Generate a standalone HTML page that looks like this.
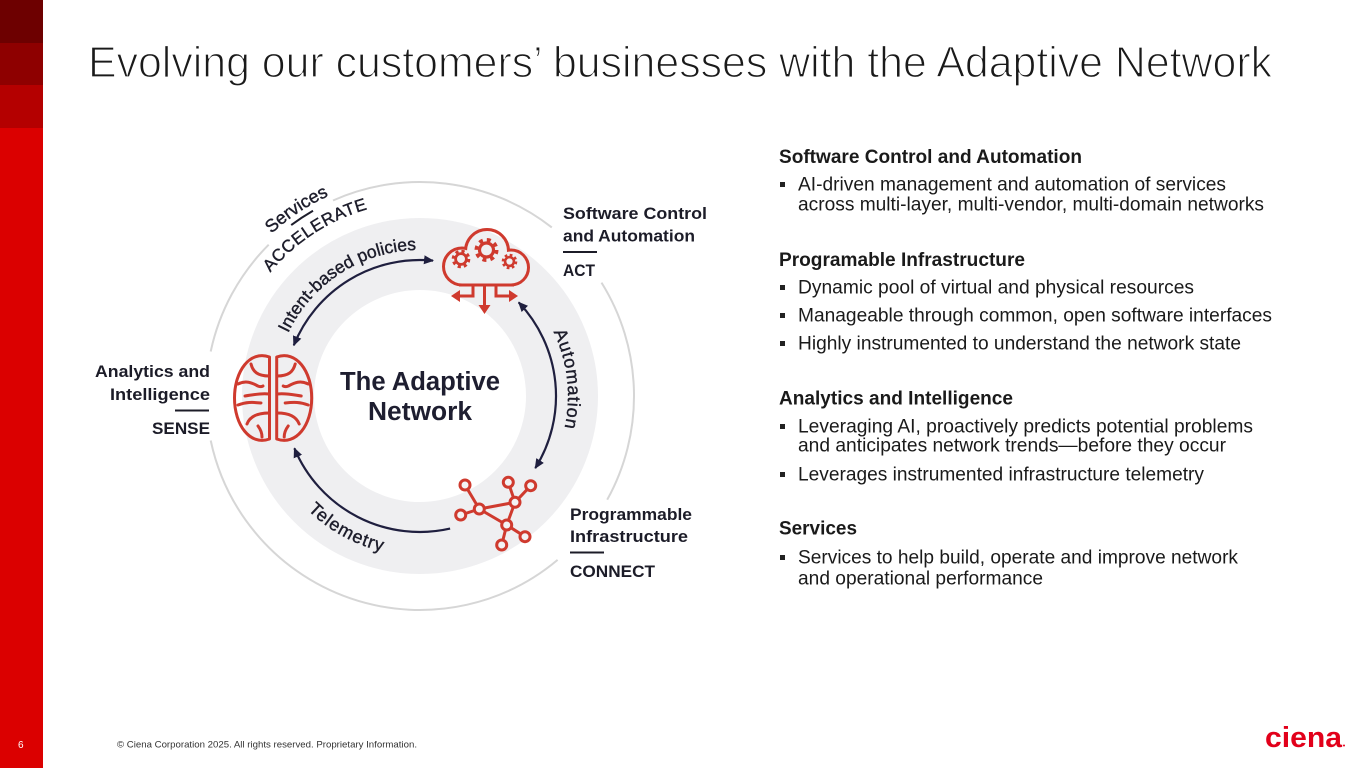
<!DOCTYPE html>
<html>
<head>
<meta charset="utf-8">
<style>
  html,body{margin:0;padding:0;background:#fff;}
  body{width:1365px;height:768px;overflow:hidden;}
  svg{display:block;}
  text{font-family:"Liberation Sans", Arial, sans-serif;}
</style>
</head>
<body>
<svg width="1365" height="768" viewBox="0 0 1365 768" xmlns="http://www.w3.org/2000/svg">
  <defs>
    <marker id="ah" viewBox="0 0 10 10" refX="9" refY="5" markerWidth="10" markerHeight="10" markerUnits="userSpaceOnUse" orient="auto-start-reverse">
      <path d="M0,0.5 L10,5 L0,9.5 z" fill="#1f1f3f"/>
    </marker>
    <mask id="cm" maskUnits="userSpaceOnUse" x="0" y="0" width="1365" height="768">
      <rect x="0" y="0" width="1365" height="768" fill="white"/>
      <g fill="black">
        <circle cx="462" cy="266.5" r="17"/>
        <circle cx="487" cy="251" r="20"/>
        <circle cx="511" cy="267.5" r="16"/>
        <rect x="462" y="258" width="49" height="25.5"/>
      </g>
    </mask>
    <path id="pIntent" d="M 274 396 A 146 146 0 0 1 479.4 262.6"/>
    <path id="pAuto" d="M 494 267.8 A 148 148 0 0 1 520.9 504.2"/>
    <path id="pTele" d="M 260.6 410 A 160 160 0 0 0 492.6 538.6"/>
    <path id="pServ" d="M 213.3 320.8 A 220 220 0 0 1 431.5 176.3"/>
    <path id="pAcc" d="M 237.7 329.6 A 194 194 0 0 1 433.5 202.5"/>
  </defs>

  <!-- left red bar -->
  <rect x="0" y="0" width="43" height="768" fill="#db0000"/>
  <rect x="0" y="0" width="43" height="43" fill="#6d0000"/>
  <rect x="0" y="43" width="43" height="42" fill="#8e0000"/>
  <rect x="0" y="85" width="43" height="43" fill="#b40000"/>

  <!-- title -->
  <text x="88" y="77" font-size="44" fill="#1a1a1a" stroke="#ffffff" stroke-width="1.3" textLength="1184" lengthAdjust="spacingAndGlyphs">Evolving our customers’ businesses with the Adaptive Network</text>

  <!-- outer thin circle with gaps -->
  <g fill="none" stroke="#d6d6d6" stroke-width="2">
    <path d="M 557.6 559.9 A 214 214 0 0 1 210.7 440.5"/>
    <path d="M 210.7 351.5 A 214 214 0 0 1 268.7 244.7"/>
    <path d="M 333.0 200.5 A 214 214 0 0 1 551.8 227.4"/>
    <path d="M 601.5 282.6 A 214 214 0 0 1 607.2 499.7"/>
  </g>
  <path d="M 291.2 225.1 A 214 214 0 0 1 313 210.7" fill="none" stroke="#1d1d2b" stroke-width="2"/>

  <!-- gray band -->
  <circle cx="420" cy="396" r="142" fill="none" stroke="#efeff1" stroke-width="72"/>

  <!-- arrows -->
  <g fill="none" stroke="#1f1f3f" stroke-width="2.2">
    <path d="M 293.8 345.3 A 136 136 0 0 1 433.0 260.6" marker-start="url(#ah)" marker-end="url(#ah)"/>
    <path d="M 518.7 302.4 A 136 136 0 0 1 535.3 468.1" marker-start="url(#ah)" marker-end="url(#ah)"/>
    <path d="M 450.1 528.6 A 136 136 0 0 1 294.4 448.3" marker-end="url(#ah)"/>
  </g>

  <!-- curved labels -->
  <g fill="#1d1d2b" stroke="#1d1d2b" stroke-width="0.4">
    <text font-size="17.5"><textPath href="#pIntent" startOffset="50%" text-anchor="middle">Intent-based policies</textPath></text>
    <text font-size="18" letter-spacing="0.8"><textPath href="#pAuto" startOffset="50%" text-anchor="middle">Automation</textPath></text>
    <text font-size="18" letter-spacing="1"><textPath href="#pTele" startOffset="50%" text-anchor="middle">Telemetry</textPath></text>
    <text font-size="18"><textPath href="#pServ" startOffset="50%" text-anchor="middle">Services</textPath></text>
    <text font-size="17" letter-spacing="0.6"><textPath href="#pAcc" startOffset="50%" text-anchor="middle">ACCELERATE</textPath></text>
  </g>

  <!-- center title -->
  <g fill="#1e1e30" font-weight="bold" font-size="25.5">
    <text x="340" y="390" textLength="160" lengthAdjust="spacingAndGlyphs">The Adaptive</text>
    <text x="368" y="420" textLength="104" lengthAdjust="spacingAndGlyphs">Network</text>
  </g>

  <!-- cloud icon -->
  <g mask="url(#cm)" fill="none" stroke="#cf3a2e" stroke-width="6">
    <circle cx="462" cy="266.5" r="17"/>
    <circle cx="487" cy="251" r="20"/>
    <circle cx="511" cy="267.5" r="16"/>
    <rect x="462" y="258" width="49" height="25.5"/>
  </g>
  <g fill="none" stroke="#cf3a2e">
    <circle cx="486.5" cy="250" r="7" stroke-width="3.2"/>
    <circle cx="486.5" cy="250" r="9.8" stroke-width="4.4" stroke-dasharray="3.8 3.9"/>
    <circle cx="461" cy="259" r="5.4" stroke-width="2.8"/>
    <circle cx="461" cy="259" r="7.6" stroke-width="3.4" stroke-dasharray="3.1 2.9"/>
    <circle cx="509.5" cy="261.5" r="4.4" stroke-width="2.6"/>
    <circle cx="509.5" cy="261.5" r="6.3" stroke-width="3" stroke-dasharray="2.6 2.35"/>
    <polyline points="473,285 473,296 460,296" stroke-width="3"/>
    <line x1="484.5" y1="285" x2="484.5" y2="305" stroke-width="3"/>
    <polyline points="496,285 496,296 509,296" stroke-width="3"/>
  </g>
  <g fill="#cf3a2e">
    <polygon points="451,296 460,290 460,302"/>
    <polygon points="484.5,314 478.5,305 490.5,305"/>
    <polygon points="518,296 509,290 509,302"/>
  </g>

  <!-- brain icon -->
  <g fill="none" stroke="#cf3a2e" stroke-width="3" stroke-linecap="round" stroke-linejoin="round">
    <path d="M 269.5 357 C 250 350, 234.5 371, 234.5 398 C 234.5 425, 250 446, 269.5 439 Z"/>
    <path d="M 276.7 357 C 296.2 350, 311.7 371, 311.7 398 C 311.7 425, 296.2 446, 276.7 439 Z"/>
    <!-- left squiggles -->
    <path d="M 251 364 C 253 372, 258 376, 269 376"/>
    <path d="M 238 384 C 246 380, 252 383, 256 385 C 259 387, 261 387, 263 386"/>
    <path d="M 269 394 C 260 393, 252 395, 245 396"/>
    <path d="M 238 405 C 246 402, 252 402, 261 403"/>
    <path d="M 269 413 C 258 413, 250 416, 247 424"/>
    <path d="M 258 426 C 261 430, 262 433, 262 437"/>
    <!-- right squiggles (mirror) -->
    <path d="M 295.2 364 C 293.2 372, 288.2 376, 277.2 376"/>
    <path d="M 308.2 384 C 300.2 380, 294.2 383, 290.2 385 C 287.2 387, 285.2 387, 283.2 386"/>
    <path d="M 277.2 394 C 286.2 393, 294.2 395, 301.2 396"/>
    <path d="M 308.2 405 C 300.2 402, 294.2 402, 285.2 403"/>
    <path d="M 277.2 413 C 288.2 413, 296.2 416, 299.2 424"/>
    <path d="M 288.2 426 C 285.2 430, 284.2 433, 284.2 437"/>
  </g>

  <!-- network icon -->
  <g stroke="#cf3a2e" stroke-width="3" fill="none">
    <line x1="465" y1="485" x2="479.3" y2="509"/>
    <line x1="460.7" y1="515" x2="479.3" y2="509"/>
    <line x1="479.3" y1="509" x2="515" y2="502.3"/>
    <line x1="479.3" y1="509" x2="506.7" y2="525"/>
    <line x1="515" y1="502.3" x2="506.7" y2="525"/>
    <line x1="508.3" y1="482.3" x2="515" y2="502.3"/>
    <line x1="530.7" y1="485.7" x2="515" y2="502.3"/>
    <line x1="506.7" y1="525" x2="525" y2="536.7"/>
    <line x1="506.7" y1="525" x2="501.7" y2="545"/>
  </g>
  <g stroke="#cf3a2e" stroke-width="3" fill="#f3f3f4">
    <circle cx="465" cy="485" r="5"/>
    <circle cx="508.3" cy="482.3" r="5"/>
    <circle cx="530.7" cy="485.7" r="5"/>
    <circle cx="460.7" cy="515" r="5"/>
    <circle cx="479.3" cy="509" r="5"/>
    <circle cx="515" cy="502.3" r="5"/>
    <circle cx="506.7" cy="525" r="5"/>
    <circle cx="525" cy="536.7" r="5"/>
    <circle cx="501.7" cy="545" r="5"/>
  </g>

  <!-- node labels -->
  <g fill="#1c1c28" font-weight="bold" font-size="17">
    <text x="563" y="219" textLength="144" lengthAdjust="spacingAndGlyphs">Software Control</text>
    <text x="563" y="241.5" textLength="132" lengthAdjust="spacingAndGlyphs">and Automation</text>
    <text x="563" y="276" textLength="32" lengthAdjust="spacingAndGlyphs">ACT</text>

    <text x="95" y="377" textLength="115" lengthAdjust="spacingAndGlyphs">Analytics and</text>
    <text x="110" y="400" textLength="100" lengthAdjust="spacingAndGlyphs">Intelligence</text>
    <text x="152" y="434" textLength="58" lengthAdjust="spacingAndGlyphs">SENSE</text>

    <text x="570" y="520" textLength="122" lengthAdjust="spacingAndGlyphs">Programmable</text>
    <text x="570" y="542" textLength="118" lengthAdjust="spacingAndGlyphs">Infrastructure</text>
    <text x="570" y="577" textLength="85" lengthAdjust="spacingAndGlyphs">CONNECT</text>
  </g>
  <g stroke="#1c1c28" stroke-width="2">
    <line x1="563" y1="252" x2="597" y2="252"/>
    <line x1="175" y1="410.5" x2="209" y2="410.5"/>
    <line x1="570" y1="552.5" x2="604" y2="552.5"/>
  </g>

  <!-- right column -->
  <g fill="#1a1a1a" font-size="19">
    <text x="779" y="163" font-weight="bold" textLength="303" lengthAdjust="spacingAndGlyphs">Software Control and Automation</text>
    <text x="798" y="190.5" textLength="428" lengthAdjust="spacingAndGlyphs">AI-driven management and automation of services</text>
    <text x="798" y="210.5" textLength="466" lengthAdjust="spacingAndGlyphs">across multi-layer, multi-vendor, multi-domain networks</text>

    <text x="779" y="266" font-weight="bold" textLength="246" lengthAdjust="spacingAndGlyphs">Programable Infrastructure</text>
    <text x="798" y="293.5" textLength="396" lengthAdjust="spacingAndGlyphs">Dynamic pool of virtual and physical resources</text>
    <text x="798" y="321.5" textLength="474" lengthAdjust="spacingAndGlyphs">Manageable through common, open software interfaces</text>
    <text x="798" y="349.5" textLength="443" lengthAdjust="spacingAndGlyphs">Highly instrumented to understand the network state</text>

    <text x="779" y="404.5" font-weight="bold" textLength="234" lengthAdjust="spacingAndGlyphs">Analytics and Intelligence</text>
    <text x="798" y="432.5" textLength="455" lengthAdjust="spacingAndGlyphs">Leveraging AI, proactively predicts potential problems</text>
    <text x="798" y="451.5" textLength="428" lengthAdjust="spacingAndGlyphs">and anticipates network trends—before they occur</text>
    <text x="798" y="480.5" textLength="406" lengthAdjust="spacingAndGlyphs">Leverages instrumented infrastructure telemetry</text>

    <text x="779" y="534.5" font-weight="bold" textLength="78" lengthAdjust="spacingAndGlyphs">Services</text>
    <text x="798" y="563.5" textLength="440" lengthAdjust="spacingAndGlyphs">Services to help build, operate and improve network</text>
    <text x="798" y="584.5" textLength="245" lengthAdjust="spacingAndGlyphs">and operational performance</text>
  </g>
  <g fill="#222">
    <rect x="780" y="182" width="5" height="5"/>
    <rect x="780" y="285" width="5" height="5"/>
    <rect x="780" y="313" width="5" height="5"/>
    <rect x="780" y="341" width="5" height="5"/>
    <rect x="780" y="424" width="5" height="5"/>
    <rect x="780" y="472" width="5" height="5"/>
    <rect x="780" y="555" width="5" height="5"/>
  </g>

  <!-- footer -->
  <text x="18" y="748" font-size="10" fill="#ffffff">6</text>
  <text x="117" y="747.5" font-size="9.5" fill="#333" textLength="300" lengthAdjust="spacingAndGlyphs">© Ciena Corporation 2025. All rights reserved. Proprietary Information.</text>

  <!-- logo -->
  <text x="1265" y="747" font-size="29" font-weight="bold" fill="#e2001a" textLength="77" lengthAdjust="spacingAndGlyphs">ciena</text>
  <circle cx="1344" cy="745.5" r="1" fill="#e2001a"/>
</svg>
</body>
</html>
